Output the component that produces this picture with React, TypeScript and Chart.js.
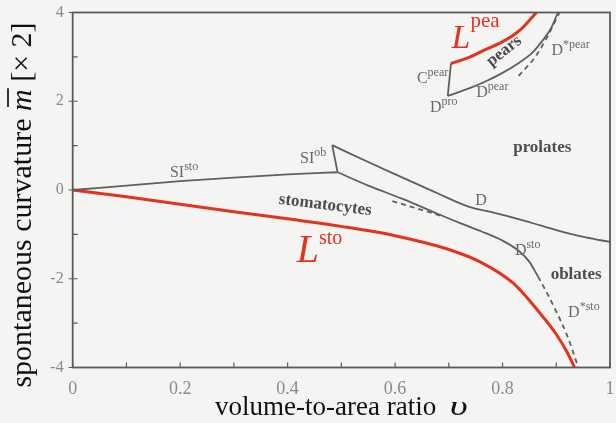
import React, { useEffect, useRef } from "react";
import { Chart, registerables } from "chart.js";

Chart.register(...registerables);

// ---- axis ticks ----
const X_TICKS = [0, 0.2, 0.4, 0.6, 0.8, 1];
const Y_TICKS = [-4, -2, 0, 2, 4];

// ---- curves (v = volume-to-area ratio, m = spontaneous curvature) ----
const lstoV = [0, 0.1, 0.2, 0.3, 0.4, 0.5, 0.6, 0.7, 0.76, 0.82, 0.87, 0.9, 0.92, 0.934];
const lstoM = [0, -0.15, -0.32, -0.49, -0.65, -0.82, -1.03, -1.34, -1.63, -2.1, -2.78, -3.25, -3.65, -4.0];

const lpeaV = [0.704, 0.74, 0.769, 0.795, 0.818, 0.835, 0.849, 0.863];
const lpeaM = [2.85, 3.0, 3.17, 3.31, 3.47, 3.63, 3.81, 4.0];

const sistoV = [0, 0.1, 0.2, 0.3, 0.4, 0.493];
const sistoM = [0, 0.1, 0.2, 0.28, 0.35, 0.4];

const siobV = [0.493, 0.483];
const siobM = [0.4, 1.01];

const dV = [0.483, 0.55, 0.614, 0.68, 0.738, 0.78, 0.843, 0.905, 0.955, 1.0];
const dM = [1.01, 0.63, 0.28, -0.08, -0.38, -0.5, -0.7, -0.92, -1.07, -1.17];

const dstoV = [0.493, 0.55, 0.614, 0.68, 0.72, 0.76, 0.8, 0.83, 0.85, 0.866];
const dstoM = [0.4, 0.1, -0.2, -0.54, -0.74, -0.93, -1.14, -1.37, -1.62, -1.95];

const dstoStarV = [0.866, 0.88, 0.9, 0.92, 0.941];
const dstoStarM = [-1.95, -2.26, -2.74, -3.27, -4.0];

const stoMetaV = [0.595, 0.688];
const stoMetaM = [-0.25, -0.59];

const cpearV = [0.704, 0.698];
const cpearM = [2.85, 2.12];

const dpearV = [0.698, 0.74, 0.769, 0.8, 0.831, 0.856, 0.874, 0.89, 0.903];
const dpearM = [2.12, 2.3, 2.45, 2.64, 2.87, 3.1, 3.36, 3.64, 4.0];

const dpearStarV = [0.83, 0.862, 0.884, 0.906];
const dpearStarM = [2.57, 3.02, 3.47, 4.0];

// ---- annotations (anchored in data coordinates) ----
type Lbl = { text: string; sup?: string; v: number; m: number; kind: string; align?: "left" | "center" | "right"; angle?: number };
const LABELS: Lbl[] = [
  { text: "L", sup: "pea", v: 0.705, m: 3.19, kind: "Lpea" },
  { text: "L", sup: "sto", v: 0.417, m: -1.62, kind: "Lsto" },
  { text: "C", sup: "pear", v: 0.699, m: 2.41, kind: "curve", align: "right" },
  { text: "D", sup: "pro", v: 0.665, m: 1.76, kind: "curve" },
  { text: "D", sup: "pear", v: 0.751, m: 2.1, kind: "curve" },
  { text: "D", sup: "*pear", v: 0.891, m: 3.04, kind: "curve" },
  { text: "SI", sup: "sto", v: 0.181, m: 0.3, kind: "curve" },
  { text: "SI", sup: "ob", v: 0.423, m: 0.6, kind: "curve" },
  { text: "D", v: 0.749, m: -0.34, kind: "curve" },
  { text: "D", sup: "sto", v: 0.823, m: -1.46, kind: "curve" },
  { text: "D", sup: "*sto", v: 0.922, m: -2.86, kind: "curve" },
  { text: "prolates", v: 0.874, m: 0.86, kind: "region", align: "center" },
  { text: "oblates", v: 0.937, m: -2.0, kind: "region", align: "center" },
  { text: "stomatocytes", v: 0.47, m: -0.34, kind: "region", align: "center", angle: 7 },
  { text: "pears", v: 0.803, m: 3.13, kind: "region", align: "center", angle: -38 },
];

const SERIF = '"Liberation Serif", "Times New Roman", serif';
const RED = "#e5321f";
const GREY = "#5f5f5f";
const TXT = "#6a6a6a";

const pts = (v: number[], m: number[]) => v.map((x, i) => ({ x, y: m[i] }));

type Part = { t: string; font: string; dy: number; color: string; sx?: number };

function partWidth(ctx: CanvasRenderingContext2D, p: Part) {
  ctx.font = p.font;
  return ctx.measureText(p.t).width * (p.sx || 1);
}

function drawParts(ctx: CanvasRenderingContext2D, parts: Part[], x: number, y: number, align: string) {
  const widths = parts.map((p) => partWidth(ctx, p));
  const total = widths.reduce((a, b) => a + b, 0);
  let cx = align === "center" ? x - total / 2 : align === "right" ? x - total : x;
  ctx.textAlign = "left";
  parts.forEach((p, i) => {
    ctx.font = p.font;
    ctx.fillStyle = p.color;
    if (p.sx && p.sx !== 1) {
      ctx.save();
      ctx.translate(cx, y + p.dy);
      ctx.scale(p.sx, 1);
      ctx.fillText(p.t, 0, 0);
      ctx.restore();
    } else {
      ctx.fillText(p.t, cx, y + p.dy);
    }
    cx += widths[i];
  });
  return widths;
}

const decorPlugin = {
  id: "decor",
  beforeDraw(chart: any) {
    const ctx = chart.ctx as CanvasRenderingContext2D;
    ctx.save();
    ctx.fillStyle = "#f4f4f2";
    ctx.fillRect(0, 0, chart.width, chart.height);
    ctx.restore();
  },
  afterDraw(chart: any) {
    const ctx = chart.ctx as CanvasRenderingContext2D;
    const { left, right, top, bottom } = chart.chartArea;
    const xs = chart.scales.x;
    const ys = chart.scales.y;
    ctx.save();
    // frame
    ctx.strokeStyle = "#5a5a5a";
    ctx.lineWidth = 1.8;
    ctx.strokeRect(left, top, right - left, bottom - top);
    // inner ticks
    ctx.lineWidth = 1.2;
    ctx.beginPath();
    for (let i = 0; i <= 10; i++) {
      const px = xs.getPixelForValue(i / 10);
      ctx.moveTo(px, bottom);
      ctx.lineTo(px, bottom - 5);
    }
    for (let j = -4; j <= 4; j++) {
      const py = ys.getPixelForValue(j);
      ctx.moveTo(left, py);
      ctx.lineTo(left + 5, py);
      if (j % 2 === 0) {
        ctx.moveTo(left, py);
        ctx.lineTo(left - 4, py);
      }
    }
    ctx.stroke();

    // annotations
    ctx.textBaseline = "alphabetic";
    LABELS.forEach((l) => {
      const x = xs.getPixelForValue(l.v);
      const y = ys.getPixelForValue(l.m);
      let parts: Part[] = [];
      if (l.kind === "Lpea" || l.kind === "Lsto") {
        const big = l.kind === "Lpea" ? 34 : 40;
        const small = l.kind === "Lpea" ? 21 : 20;
        const dy = l.kind === "Lpea" ? -21 : -18;
        parts = [
          { t: l.text, font: `italic ${big}px ${SERIF}`, dy: 0, color: RED },
          { t: l.sup || "", font: `${small}px ${SERIF}`, dy, color: RED },
        ];
      } else if (l.kind === "curve") {
        parts = [{ t: l.text, font: `16px ${SERIF}`, dy: 0, color: TXT }];
        if (l.sup) parts.push({ t: l.sup, font: `12px ${SERIF}`, dy: -7, color: TXT });
      } else {
        parts = [{ t: l.text, font: `bold 17px ${SERIF}`, dy: 0, color: "#4d4d4d" }];
      }
      if (l.angle !== undefined) {
        ctx.save();
        ctx.translate(x, y);
        ctx.rotate((l.angle * Math.PI) / 180);
        ctx.textBaseline = "middle";
        drawParts(ctx, parts, 0, 0, "center");
        ctx.restore();
        ctx.textBaseline = "alphabetic";
      } else {
        drawParts(ctx, parts, x, y, l.align || "left");
      }
    });

    // x axis title
    ctx.textBaseline = "alphabetic";
    drawParts(
      ctx,
      [
        { t: "volume-to-area ratio  ", font: `27px ${SERIF}`, dy: 0, color: "#111" },
        { t: "\u03c5", font: `italic 28px ${SERIF}`, dy: 0, color: "#111", sx: 1.4 },
      ],
      215,
      415,
      "left"
    );

    // y axis title
    ctx.save();
    ctx.translate(31, 205);
    ctx.rotate(-Math.PI / 2);
    const f = `30px ${SERIF}`;
    const fi = `italic 30px ${SERIF}`;
    const segs: Part[] = [
      { t: "spontaneous curvature ", font: f, dy: 0, color: "#111" },
      { t: "m", font: fi, dy: 0, color: "#111" },
      { t: " [\u00d7 2]", font: f, dy: 0, color: "#111" },
    ];
    const ws = drawParts(ctx, segs, 0, 0, "center");
    const tot = ws.reduce((a, b) => a + b, 0);
    const mx = -tot / 2 + ws[0];
    ctx.strokeStyle = "#111";
    ctx.lineWidth = 1.7;
    ctx.beginPath();
    ctx.moveTo(mx + 4, -23);
    ctx.lineTo(mx + ws[1] + 1, -23);
    ctx.stroke();
    ctx.restore();

    ctx.restore();
  },
};

export default function App() {
  const ref = useRef<HTMLCanvasElement | null>(null);

  useEffect(() => {
    if (!ref.current) return;
    const grey = (v: number[], m: number[], dash?: number[]) => ({
      data: pts(v, m),
      borderColor: GREY,
      borderWidth: 1.8,
      borderDash: dash || [],
      showLine: true,
      pointRadius: 0,
      fill: false,
      cubicInterpolationMode: "monotone" as const,
    });
    const red = (v: number[], m: number[]) => ({
      data: pts(v, m),
      borderColor: RED,
      borderWidth: 3,
      showLine: true,
      pointRadius: 0,
      fill: false,
      cubicInterpolationMode: "monotone" as const,
    });
    const chart = new Chart(ref.current, {
      type: "scatter",
      data: {
        datasets: [
          grey(sistoV, sistoM),
          grey(siobV, siobM),
          grey(dV, dM),
          grey(dstoV, dstoM),
          grey(dstoStarV, dstoStarM, [5, 4]),
          grey(stoMetaV, stoMetaM, [5, 4]),
          grey(cpearV, cpearM),
          grey(dpearV, dpearM),
          grey(dpearStarV, dpearStarM, [5, 4]),
          red(lstoV, lstoM),
          red(lpeaV, lpeaM),
        ] as any,
      },
      options: {
        animation: false,
        responsive: false,
        devicePixelRatio: 1,
        layout: { padding: { left: 0, right: 6, top: 12.5, bottom: 0 } },
        plugins: { legend: { display: false }, tooltip: { enabled: false } },
        scales: {
          x: {
            type: "linear",
            min: 0,
            max: 1,
            afterBuildTicks: (s: any) => {
              s.ticks = X_TICKS.map((value) => ({ value }));
            },
            ticks: {
              color: "#8a8a8a",
              font: { family: SERIF, size: 18 },
              padding: 11,
              maxRotation: 0,
              callback: (v: any) => String(Number(v)),
            },
            grid: { display: false, drawTicks: false },
            border: { display: false },
            afterFit: (s: any) => {
              s.height = 55.5;
              s.paddingLeft = 0;
              s.paddingRight = 0;
              s.paddingTop = 0;
              s.paddingBottom = 0;
            },
          },
          y: {
            type: "linear",
            min: -4,
            max: 4,
            afterBuildTicks: (s: any) => {
              s.ticks = Y_TICKS.map((value) => ({ value }));
            },
            ticks: {
              color: "#8a8a8a",
              font: { family: SERIF, size: 16 },
              padding: 9,
              callback: (v: any) => String(Number(v)),
            },
            grid: { display: false, drawTicks: false },
            border: { display: false },
            afterFit: (s: any) => {
              s.width = 72.7;
              s.paddingLeft = 0;
              s.paddingRight = 0;
              s.paddingTop = 0;
              s.paddingBottom = 0;
            },
          },
        },
      },
      plugins: [decorPlugin],
    });
    return () => chart.destroy();
  }, []);

  return (
    <div style={{ position: "fixed", left: 0, top: 0, width: 616, height: 423, background: "#f4f4f2" }}>
      <canvas ref={ref} width={616} height={423} />
    </div>
  );
}
